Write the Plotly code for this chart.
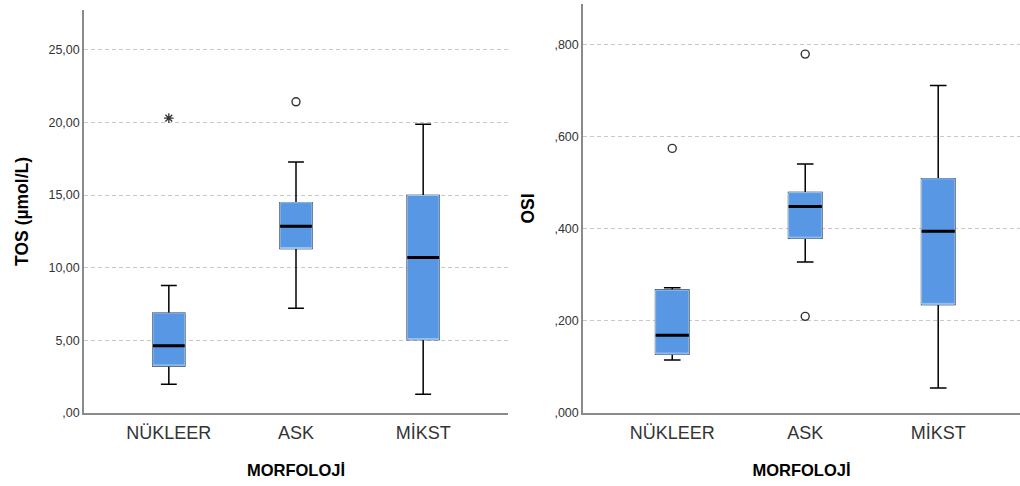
import plotly.graph_objects as go

# ---------------- data ----------------
categories = ["NÜKLEER", "ASK", "MİKST"]
positions = [0, 1, 2]

tos_q1 = [3.24, 11.32, 5.05]
tos_median = [4.63, 12.86, 10.70]
tos_q3 = [6.87, 14.48, 14.97]
tos_lower = [1.98, 7.21, 1.29]
tos_upper = [8.77, 17.27, 19.88]
tos_extreme_pos = [0]
tos_extreme_val = [20.3]
tos_outlier_pos = [1]
tos_outlier_val = [21.42]

osi_q1 = [0.128, 0.380, 0.236]
osi_median = [0.169, 0.4485, 0.395]
osi_q3 = [0.267, 0.479, 0.509]
osi_lower = [0.115, 0.328, 0.054]
osi_upper = [0.272, 0.541, 0.712]
osi_outlier_pos = [0, 1, 1]
osi_outlier_val = [0.575, 0.780, 0.210]

tos_tickvals = [0, 5, 10, 15, 20, 25]
tos_ticktext = [",00", "5,00", "10,00", "15,00", "20,00", "25,00"]
osi_tickvals = [0, 0.2, 0.4, 0.6, 0.8]
osi_ticktext = [",000", ",200", ",400", ",600", ",800"]

# ---------------- style ----------------
BLUE = "#5797E3"
EDGE = "#9CC4F0"
FONT = "Liberation Sans"
BOX_W = 0.25

fig = go.Figure()


def add_panel(q1, med, q3, lo, hi, xa, ya):
    # whiskers, caps (black)
    fig.add_trace(go.Box(x=positions, q1=q1, median=med, q3=q3,
                         lowerfence=lo, upperfence=hi, width=BOX_W,
                         whiskerwidth=0.5, boxpoints=False,
                         line=dict(color="black", width=1.5),
                         fillcolor=BLUE, xaxis=xa, yaxis=ya,
                         showlegend=False, hoverinfo="skip"))
    # box body with light edge
    fig.add_trace(go.Box(x=positions, q1=q1, median=q1, q3=q3,
                         lowerfence=q1, upperfence=q3, width=BOX_W,
                         whiskerwidth=0, boxpoints=False,
                         line=dict(color=EDGE, width=1),
                         fillcolor=BLUE, xaxis=xa, yaxis=ya,
                         showlegend=False, hoverinfo="skip"))
    # thick black median
    fig.add_trace(go.Box(x=positions, q1=med, median=med, q3=med,
                         lowerfence=med, upperfence=med, width=BOX_W,
                         whiskerwidth=0, boxpoints=False,
                         line=dict(color="black", width=3),
                         fillcolor="rgba(0,0,0,0)", xaxis=xa, yaxis=ya,
                         showlegend=False, hoverinfo="skip"))


add_panel(tos_q1, tos_median, tos_q3, tos_lower, tos_upper, "x", "y")
add_panel(osi_q1, osi_median, osi_q3, osi_lower, osi_upper, "x2", "y2")

circle = dict(symbol="circle-open", size=8, color="#333333",
              line=dict(color="#333333", width=1.4))
fig.add_trace(go.Scatter(x=tos_outlier_pos, y=tos_outlier_val, mode="markers",
                         marker=circle, xaxis="x", yaxis="y", showlegend=False))
fig.add_trace(go.Scatter(x=tos_extreme_pos, y=tos_extreme_val, mode="markers",
                         marker=dict(symbol="asterisk-open", size=8, color="#333333",
                                     line=dict(color="#333333", width=1.3)),
                         xaxis="x", yaxis="y", showlegend=False))
fig.add_trace(go.Scatter(x=osi_outlier_pos, y=osi_outlier_val, mode="markers",
                         marker=circle, xaxis="x2", yaxis="y2", showlegend=False))

W, H = 1020, 486
axis_line = dict(showline=True, linecolor="#8a8a8a", linewidth=1.5,
                 zeroline=False, ticks="")
xcommon = dict(tickvals=positions, ticktext=categories, showgrid=False,
               ticklabelstandoff=3,
               tickfont=dict(family=FONT, size=18, color="#333333"),
               title=dict(text="MORFOLOJİ", standoff=22,
                          font=dict(family=FONT, size=16.5, color="black", weight="bold")),
               **axis_line)
ycommon = dict(showgrid=True, gridcolor="#c8c8c8", griddash="4px,3px", gridwidth=1,
               tickfont=dict(family=FONT, size=12.5, color="#333333"),
               **axis_line)

BOTTOM = 67 / H
fig.update_layout(
    width=W, height=H,
    margin=dict(l=0, r=0, t=0, b=0),
    paper_bgcolor="white", plot_bgcolor="white",
    boxmode="overlay",
    xaxis=dict(domain=[84 / W, 508 / W], range=[-0.667, 2.667], anchor="y", **xcommon),
    yaxis=dict(domain=[BOTTOM, 476 / H], range=[0, 27.75], anchor="x",
               tickvals=tos_tickvals, ticktext=tos_ticktext,
               title=dict(text="TOS (µmol/L)", standoff=15,
                          font=dict(family=FONT, size=17.5, color="black", weight="bold")),
               **ycommon),
    xaxis2=dict(domain=[583 / W, 1.0], range=[-0.671, 2.615], anchor="y2", **xcommon),
    yaxis2=dict(domain=[BOTTOM, 482 / H], range=[0, 0.889], anchor="x2",
                tickvals=osi_tickvals, ticktext=osi_ticktext,
                title=dict(text="OSI", standoff=15,
                           font=dict(family=FONT, size=17.5, color="black", weight="bold")),
                **ycommon),
)

fig.write_html("out.html",
               config={"displayModeBar": False, "responsive": False},
               post_script="document.body.style.margin='0';document.body.style.overflow='hidden';")
